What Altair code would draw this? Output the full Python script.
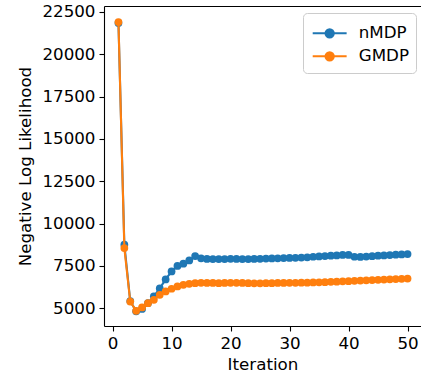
import altair as alt
import pandas as pd

iterations = list(range(1, 51))
nmdp = [21850, 8750, 5420, 4820, 4960, 5300, 5700, 6170, 6700, 7170,
        7500, 7630, 7820, 8080, 7950, 7910, 7900, 7900, 7900, 7920,
        7910, 7900, 7900, 7910, 7920, 7930, 7940, 7950, 7960, 7970,
        7980, 7990, 8010, 8040, 8060, 8080, 8100, 8120, 8150, 8150,
        8040, 8030, 8050, 8070, 8100, 8120, 8140, 8160, 8180, 8200]
gmdp = [21900, 8550, 5390, 4850, 5050, 5300, 5500, 5790, 5990, 6150,
        6290, 6380, 6440, 6480, 6500, 6490, 6490, 6480, 6490, 6500,
        6500, 6490, 6480, 6470, 6470, 6480, 6480, 6490, 6490, 6500,
        6500, 6510, 6510, 6520, 6530, 6540, 6560, 6570, 6590, 6600,
        6620, 6630, 6650, 6660, 6680, 6690, 6710, 6720, 6740, 6750]
series_names = ["nMDP", "GMDP"]
colors = ["#1f77b4", "#ff7f0e"]
x_ticks = [0, 10, 20, 30, 40, 50]
y_ticks = [5000, 7500, 10000, 12500, 15000, 17500, 20000, 22500]

rows = []
for name, vals in zip(series_names, [nmdp, gmdp]):
    for it, v in zip(iterations, vals):
        rows.append({"Iteration": it, "NLL": v, "Series": name})
df = pd.DataFrame(rows)

FONT = "DejaVu Sans"
FS = 16.7
xscale = alt.Scale(domain=[-1.45, 52.28], nice=False, zero=False)
yscale = alt.Scale(domain=[3950, 22850], nice=False, zero=False)

# legend handle: line with a dot in the middle (units of sqrt(size)/2)
sym = ("M-1,0L5,0M1.26,0A0.74,0.74,0,1,1,2.74,0"
       "A0.74,0.74,0,1,1,1.26,0Z")
color = alt.Color(
    "Series:N",
    scale=alt.Scale(domain=series_names, range=colors),
    legend=alt.Legend(
        title=" ", titleFontSize=1, titlePadding=4,
        orient="none", legendX=199, legendY=7,
        symbolType=sym, symbolSize=128, symbolStrokeWidth=2,
        labelFont=FONT, labelFontSize=FS, labelColor="black",
        labelOffset=32, padding=7, rowPadding=5,
        strokeColor="#cccccc", fillColor="rgba(255,255,255,0.8)",
        cornerRadius=4,
    ),
)

axis_common = dict(
    labelFont=FONT, labelFontSize=FS, labelColor="black",
    titleFont=FONT, titleFontSize=FS, titleColor="black", titleFontWeight="normal",
    tickColor="black", tickWidth=1.1, tickSize=5, labelPadding=4,
    domainColor="black", domainWidth=1.1, grid=False,
)
x_bottom = alt.X("Iteration:Q", scale=xscale,
                 axis=alt.Axis(values=x_ticks, format="d", title="Iteration",
                               titlePadding=5, **axis_common))
x_top = alt.X("Iteration:Q", scale=xscale,
              axis=alt.Axis(orient="top", labels=False, ticks=False, title="",
                            domain=True, domainColor="black", domainWidth=1.1, grid=False))
x_none = alt.X("Iteration:Q", scale=xscale, axis=None)
y = alt.Y("NLL:Q", scale=yscale,
          axis=alt.Axis(values=y_ticks, format="d", title="Negative Log Likelihood",
                        titlePadding=7, **axis_common))

layers = []
for i, name in enumerate(series_names):
    base = alt.Chart(df).transform_filter(alt.datum.Series == name)
    xl = x_bottom if i == 0 else x_top
    layers.append(base.mark_line(strokeWidth=2.1).encode(x=xl, y=y, color=color))
    layers.append(base.mark_circle(size=60, opacity=1).encode(x=x_none, y=y, color=color))

chart = alt.layer(*layers).resolve_axis(x="independent").properties(
    width=317, height=320,
    autosize=alt.AutoSizeParams(type="none"),
    padding={"left": 104, "top": 6, "right": 0, "bottom": 52},
).configure_view(stroke="transparent")

chart.save("out.html", embed_options={"renderer": "svg", "actions": False})
